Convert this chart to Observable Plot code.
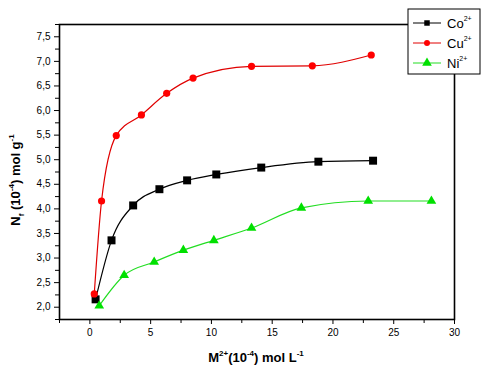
<!DOCTYPE html>
<html>
<head>
<meta charset="utf-8">
<script src="https://cdn.jsdelivr.net/npm/d3@7"></script>
<script src="https://cdn.jsdelivr.net/npm/@observablehq/plot@0.6"></script>
<style>
  html, body { margin: 0; padding: 0; background: #fff; }
  #chart { width: 493px; height: 374px; }
</style>
</head>
<body>
<div id="chart"></div>
<script>
// Data
const coX = [0.47, 1.78, 3.56, 5.72, 8.0, 10.4, 14.1, 18.8, 23.3];
const coY = [2.16, 3.36, 4.07, 4.40, 4.58, 4.70, 4.84, 4.96, 4.98];
const cuX = [0.36, 0.96, 2.17, 4.24, 6.32, 8.49, 13.3, 18.3, 23.15];
const cuY = [2.27, 4.16, 5.49, 5.91, 6.35, 6.66, 6.90, 6.91, 7.13];
const niX = [0.77, 2.82, 5.29, 7.69, 10.2, 13.3, 17.4, 22.9, 28.1];
const niY = [2.03, 2.65, 2.92, 3.16, 3.36, 3.61, 4.02, 4.16, 4.16];

const xMajor = [0, 5, 10, 15, 20, 25, 30];
const xMinor = [-2.5, 2.5, 7.5, 12.5, 17.5, 22.5, 27.5];
const yMajor = [2.0, 2.5, 3.0, 3.5, 4.0, 4.5, 5.0, 5.5, 6.0, 6.5, 7.0, 7.5];
const yMinor = [1.75, 2.25, 2.75, 3.25, 3.75, 4.25, 4.75, 5.25, 5.75, 6.25, 6.75, 7.25, 7.75];

const seriesNames = ["Co", "Cu", "Ni"];
const lineColors = ["#000000", "#e00000", "#22dd22"];
const dotColors = ["#000000", "#ff0000", "#00e000"];

const co = coX.map((x, i) => ({x, y: coY[i]}));
const cu = cuX.map((x, i) => ({x, y: cuY[i]}));
const ni = niX.map((x, i) => ({x, y: niY[i]}));

const fmt = d => d3.format(".1f")(d).replace(".", ",");

const plot = Plot.plot({
  width: 493,
  height: 374,
  marginLeft: 59,
  marginRight: 39,
  marginTop: 24,
  marginBottom: 55,
  style: {fontFamily: "'Liberation Sans', Arial, sans-serif", fontSize: "10px", background: "white", color: "black"},
  x: {domain: [-2.5, 30]},
  y: {domain: [1.75, 7.75]},
  marks: [
    Plot.axisX({ticks: xMajor, tickSize: 5, tickPadding: 4, tickFormat: d => String(d), label: null, fontSize: 10}),
    Plot.axisX({ticks: xMinor, tickSize: 4, tickFormat: () => "", label: null}),
    Plot.axisY({ticks: yMajor, tickSize: 5, tickPadding: 4, tickFormat: fmt, label: null, fontSize: 10}),
    Plot.axisY({ticks: yMinor, tickSize: 4, tickFormat: () => "", label: null}),
    Plot.line(cu, {x: "x", y: "y", stroke: lineColors[1], strokeWidth: 1.2, curve: "monotone-x"}),
    Plot.line(co, {x: "x", y: "y", stroke: lineColors[0], strokeWidth: 1.2, curve: "monotone-x"}),
    Plot.line(ni, {x: "x", y: "y", stroke: lineColors[2], strokeWidth: 1.2, curve: "monotone-x"}),
    Plot.dot(co, {x: "x", y: "y", symbol: "square", r: 4.5, fill: dotColors[0]}),
    Plot.dot(cu, {x: "x", y: "y", symbol: "circle", r: 3.6, fill: dotColors[1]}),
    Plot.dot(ni, {x: "x", y: "y", symbol: "triangle", r: 3.6, fill: dotColors[2]}),
    Plot.frame({stroke: "black", strokeWidth: 1.6})
  ]
});

document.getElementById("chart").appendChild(plot);

const svg = d3.select(plot);
const font = "'Liberation Sans', Arial, sans-serif";

// X axis label
const xl = svg.append("text")
  .attr("x", 256).attr("y", 362)
  .attr("text-anchor", "middle")
  .attr("font-family", font).attr("font-weight", "bold").attr("font-size", 13)
  .attr("fill", "black");
xl.append("tspan").text("M");
xl.append("tspan").attr("dy", -6).attr("font-size", 8).text("2+");
xl.append("tspan").attr("dy", 6).text("(10");
xl.append("tspan").attr("dy", -6).attr("font-size", 8).text("-4");
xl.append("tspan").attr("dy", 6).text(") mol L");
xl.append("tspan").attr("dy", -6).attr("font-size", 8).text("-1");

// Y axis label
const yl = svg.append("text")
  .attr("transform", "translate(20,180) rotate(-90)")
  .attr("text-anchor", "middle")
  .attr("font-family", font).attr("font-weight", "bold").attr("font-size", 13)
  .attr("fill", "black");
yl.append("tspan").text("N");
yl.append("tspan").attr("dy", 4).attr("font-size", 8).text("f");
yl.append("tspan").attr("dy", -4).text(" (10");
yl.append("tspan").attr("dy", -6).attr("font-size", 8).text("-4");
yl.append("tspan").attr("dy", 6).text(") mol g");
yl.append("tspan").attr("dy", -6).attr("font-size", 8).text("-1");

// Legend
const lg = svg.append("g").attr("text-anchor", "start");
lg.append("rect").attr("x", 408).attr("y", 9).attr("width", 72).attr("height", 65)
  .attr("fill", "white").attr("stroke", "black").attr("stroke-width", 1);
const legSymbols = [d3.symbolSquare, d3.symbolCircle, d3.symbolTriangle];
const legSizes = [30, 28, 40];
[23, 43, 63].forEach((yy, i) => {
  lg.append("line").attr("x1", 413).attr("x2", 441).attr("y1", yy).attr("y2", yy)
    .attr("stroke", lineColors[i]).attr("stroke-width", 1);
  lg.append("path").attr("d", d3.symbol(legSymbols[i], legSizes[i])())
    .attr("transform", `translate(427,${yy})`).attr("fill", dotColors[i]);
  const t = lg.append("text").attr("x", 447).attr("y", yy + 5)
    .attr("text-anchor", "start")
    .attr("font-family", font).attr("font-size", 13).attr("fill", "black");
  t.append("tspan").text(seriesNames[i]);
  t.append("tspan").attr("dy", -7).attr("font-size", 7).text("2+");
});
</script>
</body>
</html>
